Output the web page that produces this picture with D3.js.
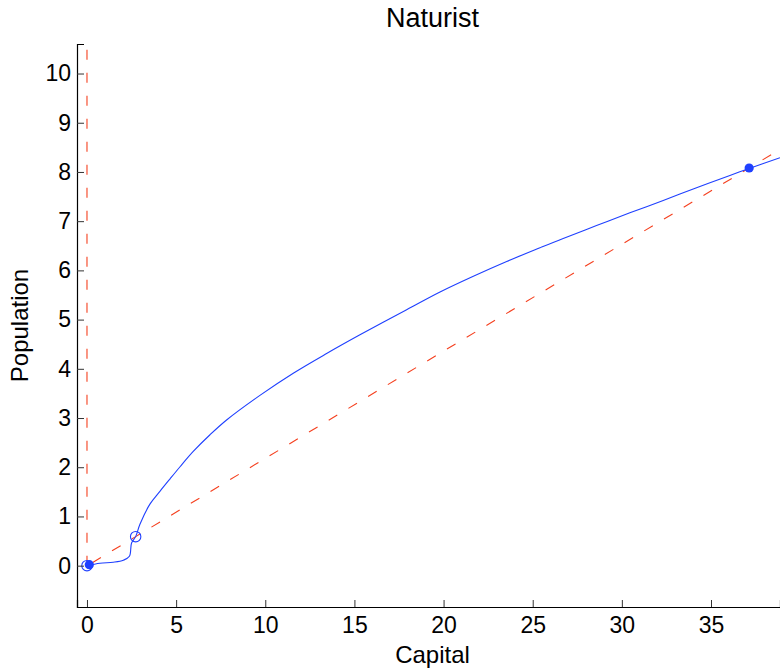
<!DOCTYPE html>
<html>
<head>
<meta charset="utf-8">
<script src="https://cdn.jsdelivr.net/npm/d3@7"></script>
<style>
  html, body { margin: 0; padding: 0; background: #fff; }
  svg { display: block; }
  text { font-family: "Liberation Sans", Arial, Helvetica, sans-serif; fill: #000; }
</style>
</head>
<body>
<svg id="chart" width="780" height="670"></svg>
<script>
// ---- data ----
const titleText = "Naturist";
const xLabelText = "Capital";
const yLabelText = "Population";
const xTicks = [0, 5, 10, 15, 20, 25, 30, 35];
const yTicks = [0, 1, 2, 3, 4, 5, 6, 7, 8, 9, 10];
const xDomain = [-0.56, 38.87];
const yDomain = [-0.84, 10.6];

// trajectory (blue solid)
const trajCapital = [0, 0.73, 1.47, 2.04, 2.38, 2.5, 2.73, 2.97, 3.53, 4.09, 4.65, 5.22, 5.96, 6.9, 7.83, 9.70, 11.57, 13.44, 15.31, 17.93, 19.80, 21.67, 23.54, 25.41, 26.71, 28.58, 30.45, 32.32, 34.19, 36.06, 37.14, 38.87];
const trajPopulation = [0, 0.05, 0.07, 0.11, 0.19, 0.46, 0.59, 0.84, 1.25, 1.51, 1.76, 2.01, 2.32, 2.66, 2.96, 3.46, 3.91, 4.31, 4.69, 5.20, 5.56, 5.88, 6.18, 6.46, 6.65, 6.91, 7.17, 7.42, 7.68, 7.93, 8.07, 8.29];

// nullclines (red dashed)
const nullDiagCapital = [0.3, 2.73, 10, 20, 30, 37.14, 38.87];
const nullDiagPopulation = [0.06, 0.59, 2.18, 4.36, 6.53, 8.08, 8.46];
const nullVertCapital = [0, 0];
const nullVertPopulation = [0, 10.6];

// equilibria
const filledCapital = [0.13, 37.14];
const filledPopulation = [0.02, 8.08];
const openCapital = [0, 2.73];
const openPopulation = [0, 0.59];

// ---- drawing ----
const svg = d3.select("#chart");
const mLeft = 77, mRight = 780, mTop = 44, mBottom = 607;
const x = d3.scaleLinear().domain(xDomain).range([mLeft, mRight]);
const y = d3.scaleLinear().domain(yDomain).range([mBottom, mTop]);

svg.append("defs").append("clipPath").attr("id", "clip")
  .append("rect").attr("x", mLeft).attr("y", mTop).attr("width", mRight - mLeft).attr("height", mBottom - mTop);

const plot = svg.append("g").attr("clip-path", "url(#clip)");
const line = d3.line().x(d => x(d[0])).y(d => y(d[1]));
const smooth = d3.line().x(d => x(d[0])).y(d => y(d[1])).curve(d3.curveCatmullRom.alpha(0.5));

const red = "#f5401f", blue = "#1f40ff";

plot.append("path")
  .datum(nullVertCapital.map((c, i) => [c, nullVertPopulation[i]]))
  .attr("d", line).attr("fill", "none").attr("stroke", red).attr("stroke-width", 1.1)
  .attr("stroke-dasharray", "10,13");

plot.append("path")
  .datum(nullDiagCapital.map((c, i) => [c, nullDiagPopulation[i]]))
  .attr("d", line).attr("fill", "none").attr("stroke", red).attr("stroke-width", 1.1)
  .attr("stroke-dasharray", "10,13");

plot.append("path")
  .datum(trajCapital.map((c, i) => [c, trajPopulation[i]]))
  .attr("d", smooth).attr("fill", "none").attr("stroke", blue).attr("stroke-width", 1.1);

plot.selectAll("circle.open").data(openCapital.map((c, i) => [c, openPopulation[i]]))
  .enter().append("circle").attr("class", "open")
  .attr("cx", d => x(d[0])).attr("cy", d => y(d[1])).attr("r", 5.2)
  .attr("fill", "none").attr("stroke", blue).attr("stroke-width", 1.1);

plot.selectAll("circle.filled").data(filledCapital.map((c, i) => [c, filledPopulation[i]]))
  .enter().append("circle").attr("class", "filled")
  .attr("cx", d => x(d[0])).attr("cy", d => y(d[1])).attr("r", 4.6)
  .attr("fill", blue);

// axes
const xAxis = svg.append("g").attr("transform", `translate(0,${mBottom})`)
  .call(d3.axisBottom(x).tickValues(xTicks).tickSize(-7).tickPadding(12).tickFormat(d3.format("d")));
const yAxis = svg.append("g").attr("transform", `translate(${mLeft},0)`)
  .call(d3.axisLeft(y).tickValues(yTicks).tickSize(-7).tickPadding(6).tickFormat(d3.format("d")));

[xAxis, yAxis].forEach(a => {
  a.select(".domain").attr("stroke", "#000").attr("stroke-width", 1.2);
  a.selectAll(".tick line").attr("stroke", "#333").attr("stroke-width", 1);
  a.selectAll(".tick text").style("font-size", "23px").style("font-family", "'Liberation Sans', Arial, sans-serif").attr("fill", "#000");
});
xAxis.selectAll(".tick text").attr("dy", "0.71em").attr("y", 10);

// labels
svg.append("text").attr("x", (mLeft + mRight) / 2 + 4).attr("y", 27).attr("text-anchor", "middle")
  .style("font-size", "27px").text(titleText);
svg.append("text").attr("x", (mLeft + mRight) / 2 + 4).attr("y", 663).attr("text-anchor", "middle")
  .style("font-size", "24px").text(xLabelText);
svg.append("text").attr("transform", `translate(28,${(mTop + mBottom) / 2}) rotate(-90)`).attr("text-anchor", "middle")
  .style("font-size", "24px").text(yLabelText);
</script>
</body>
</html>
